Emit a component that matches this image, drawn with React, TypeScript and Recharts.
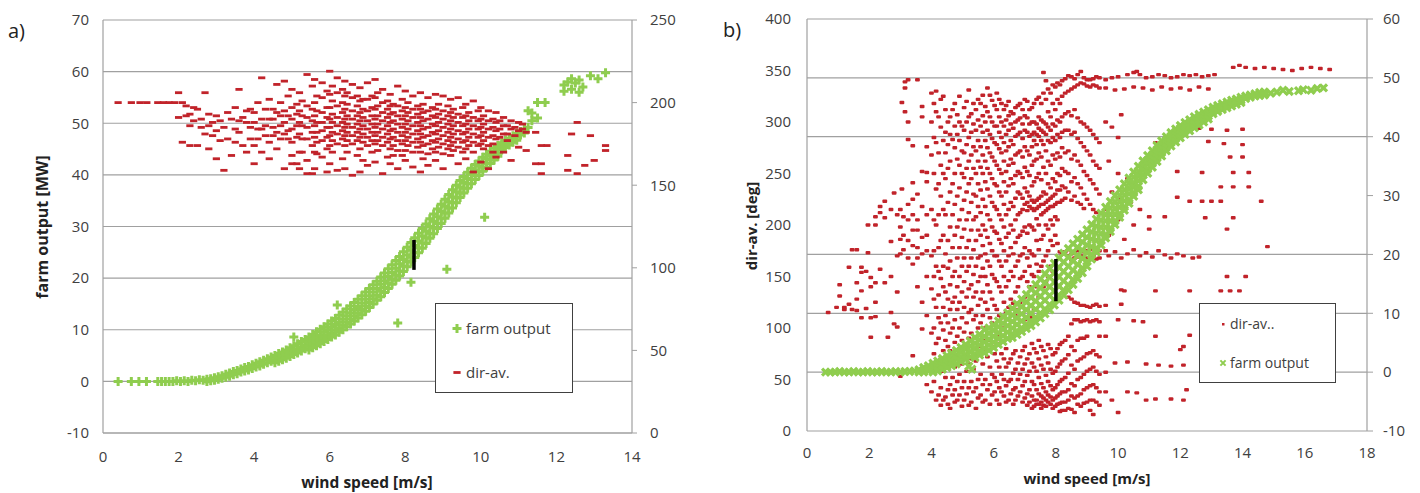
import { ScatterChart, Scatter, XAxis, YAxis, CartesianGrid, ReferenceLine } from 'recharts';

type Col = [number, number[]];

const windTicksA = [0, 2, 4, 6, 8, 10, 12, 14];
const outputTicksA = [-10, 0, 10, 20, 30, 40, 50, 60, 70];
const dirTicksA = [0, 50, 100, 150, 200, 250];
const windTicksB = [0, 2, 4, 6, 8, 10, 12, 14, 16, 18];
const dirTicksB = [0, 50, 100, 150, 200, 250, 300, 350, 400];
const outputTicksB = [-10, 0, 10, 20, 30, 40, 50, 60];
const gridValuesB = [60, 50, 40, 20, 10, 0];

// black marker bars (wind, value)
const barA = [{ x: 8.23, y: 21.6 }, { x: 8.23, y: 27.4 }];
const barB = [{ x: 8.0, y: 126 }, { x: 8.0, y: 167 }];

// panel a) farm output [MW] per wind speed
const farmOutputA: Col[] = [
  [0.4, [0]], [0.75, [0]], [0.95, [0]], [1.15, [0]], [1.45, [0]], [1.55, [0]], [1.65, [0]], [1.75, [0]],
  [1.85, [0]], [1.95, [0.1]], [2.05, [0]], [2.15, [0.1]], [2.25, [0]], [2.35, [0.2]], [2.45, [0.1]],
  [2.55, [0.3]], [2.65, [0.2]], [2.75, [0.4, 0]], [2.85, [0.5, 0.1]], [2.95, [0.7, 0.2]], [3.05, [0.9, 0.4]],
  [3.15, [1.1, 0.6]], [3.25, [1.4, 0.8]], [3.35, [1.6, 1.0]], [3.45, [1.9, 1.3]], [3.55, [2.1, 1.5]],
  [3.65, [2.4, 1.8]], [3.75, [2.7, 2.0]], [3.85, [2.9, 2.2]], [3.95, [3.2, 2.5]], [4.05, [3.5, 2.8]],
  [4.15, [3.8, 3.0]], [4.25, [4.1, 3.3]], [4.35, [4.4, 3.6]], [4.45, [4.7, 3.9]], [4.55, [5.0, 4.2, 3.6]],
  [4.65, [5.4, 4.5, 3.9]], [4.75, [5.7, 4.9, 4.2]], [4.85, [6.1, 5.2, 4.5]], [4.95, [6.5, 5.6, 4.8]],
  [5.05, [6.9, 6.0, 5.2, 8.6]], [5.15, [7.3, 6.3, 5.5]], [5.25, [7.7, 6.7, 5.9]], [5.35, [8.1, 7.1, 6.3]],
  [5.45, [8.6, 7.6, 6.8, 6.1]], [5.55, [9.1, 8.1, 7.2, 6.5]], [5.65, [9.6, 8.5, 7.6, 6.9]], [5.75, [10.1, 9.0, 8.0, 7.3]],
  [5.85, [10.6, 9.5, 8.5, 7.7]], [5.95, [11.1, 10.0, 8.9, 8.1]], [6.05, [11.7, 10.5, 9.4, 8.6]], [6.15, [12.2, 11.0, 9.9, 9.0]],
  [6.2, [14.8]], [6.25, [12.8, 11.5, 10.4, 9.5]], [6.35, [13.4, 12.1, 10.9, 10.0]], [6.45, [14.0, 12.7, 11.5, 10.6]],
  [6.55, [14.6, 13.3, 12.1, 11.1]], [6.65, [15.3, 13.9, 12.7, 11.7]], [6.75, [15.9, 14.5, 13.3, 12.3]], [6.85, [16.6, 15.2, 13.9, 12.9]],
  [6.95, [17.3, 15.9, 14.6, 13.6]], [7.05, [18.0, 16.6, 15.3, 14.3]], [7.15, [18.7, 17.3, 16.0, 15.0]], [7.25, [19.4, 18.0, 16.7, 15.7]],
  [7.35, [20.2, 18.8, 17.5, 16.4]], [7.45, [21.0, 19.5, 18.2, 17.2]], [7.55, [21.8, 20.3, 19.0, 18.0]], [7.65, [22.6, 21.1, 19.8, 18.8]],
  [7.75, [23.4, 21.9, 20.6, 19.6]], [7.8, [11.3]], [7.85, [24.2, 22.8, 21.4, 20.4]], [7.95, [25.1, 23.6, 22.3, 21.3]],
  [8.05, [26.0, 24.5, 23.2, 22.2]], [8.15, [26.9, 25.4, 24.1, 23.1, 19.2]], [8.25, [27.8, 26.3, 25.0, 24.0]], [8.35, [28.7, 27.2, 25.9, 24.9]],
  [8.45, [29.6, 28.1, 26.8, 25.8]], [8.55, [30.5, 29.1, 27.8, 26.7]], [8.65, [31.5, 30.0, 28.7, 27.7]], [8.75, [32.4, 31.0, 29.7, 28.6]],
  [8.85, [33.4, 31.9, 30.6, 29.6]], [8.95, [34.3, 32.9, 31.6, 30.6]], [9.05, [35.3, 33.9, 32.6, 31.6]], [9.1, [21.7]],
  [9.15, [36.2, 34.8, 33.6, 32.6]], [9.25, [37.1, 35.7, 34.6, 33.6]], [9.35, [38.0, 36.7, 35.5, 34.6]], [9.45, [38.9, 37.6, 36.5, 35.6]],
  [9.55, [39.7, 38.5, 37.4, 36.5]], [9.65, [40.5, 39.3, 38.3, 37.4]], [9.75, [41.3, 40.1, 39.1, 38.3]], [9.85, [42.0, 40.9, 39.9, 39.1]],
  [9.95, [42.7, 41.7, 40.7, 39.9]], [10.05, [43.4, 42.4, 41.5, 40.7]], [10.1, [31.8]], [10.15, [44.0, 43.1, 42.2, 41.5]],
  [10.25, [44.6, 43.7, 42.9, 42.2]], [10.35, [45.2, 44.3, 43.6, 42.9]], [10.45, [45.7, 44.9, 44.2, 43.6]], [10.55, [46.2, 45.4, 44.8]],
  [10.65, [46.7, 45.9, 45.3]], [10.75, [47.1, 46.4, 45.8]], [10.85, [47.6, 46.9, 46.3]], [10.95, [48.0, 47.3, 46.7]],
  [11.05, [48.4, 47.7]], [11.15, [48.8, 48.1]], [11.25, [52.4, 49.2]], [11.35, [52.0, 50.5]], [11.5, [54.0, 51.0]],
  [11.7, [54.0]], [12.2, [57.4, 56.2]], [12.3, [58.0]], [12.4, [56.6, 58.6]], [12.5, [57.8]], [12.6, [56.0, 58.4]],
  [12.7, [57.0]], [12.9, [59.2]], [13.1, [58.6]], [13.3, [59.8]],
];

// panel a) dir-av. (right axis)
const dirAvA: Col[] = [
  [0.4, [200]], [0.75, [200]], [0.98, [200]], [1.16, [200]], [1.45, [200]], [1.6, [200]], [1.75, [200]], [1.9, [200]],
  [2.0, [206, 191]], [2.1, [200, 176]], [2.2, [192, 198]], [2.3, [174, 193, 186]], [2.4, [197, 189]], [2.5, [196, 174]],
  [2.6, [190, 185]], [2.7, [206, 181]], [2.8, [186, 172, 193]], [2.9, [188, 180]], [3.0, [183, 166, 192]],
  [3.1, [189, 177]], [3.2, [159, 185]], [3.3, [178, 194]], [3.4, [190, 168]], [3.5, [176, 184, 197]],
  [3.6, [208, 182, 189]], [3.7, [174, 191]], [3.8, [188, 170, 195]], [3.9, [196, 178, 185]], [4.0, [194, 174, 163, 188]],
  [4.1, [184, 200, 178]], [4.2, [215, 190, 170, 184]], [4.3, [180, 186, 196]], [4.4, [202, 176, 166, 190]], [4.5, [196, 185, 190, 180]],
  [4.6, [211, 182, 172, 194]], [4.7, [192, 200, 178, 186]], [4.8, [213, 188, 160, 195, 181]], [4.9, [204, 178, 183, 192]],
  [5.0, [208, 197, 190, 184, 176, 168, 163]], [5.13, [199, 193, 186, 179, 163]], [5.2, [206, 195, 188, 181, 170, 160]],
  [5.27, [201, 192, 186, 178, 170]], [5.4, [217, 198, 191, 185, 178, 165, 157]], [5.54, [210, 196, 189, 182, 174, 157]],
  [5.6, [214, 200, 192, 186, 179, 170, 160]], [5.66, [204, 195, 188, 182, 176, 169]], [5.8, [212, 203, 194, 188, 183, 177, 167]],
  [5.93, [207, 197, 191, 185, 179, 172, 158]], [6.0, [219, 205, 197, 190, 185, 180, 174, 163]], [6.07, [210, 201, 193, 188, 182, 177, 170]],
  [6.2, [215, 206, 198, 191, 186, 181, 175, 159]], [6.34, [208, 200, 194, 188, 183, 178, 166]], [6.4, [213, 204, 196, 190, 185, 180, 174, 160]],
  [6.46, [206, 199, 192, 187, 182, 177, 170]], [6.6, [211, 203, 195, 190, 185, 180, 175, 156]], [6.73, [204, 198, 192, 187, 182, 177, 168]],
  [6.8, [209, 201, 194, 189, 184, 179, 172, 158]], [6.88, [202, 196, 191, 186, 181, 176, 165]], [7.0, [212, 202, 195, 189, 184, 179, 174, 162]],
  [7.12, [204, 197, 192, 187, 182, 177, 170]], [7.2, [214, 203, 196, 190, 185, 180, 175, 164]], [7.27, [206, 198, 192, 187, 182, 177, 171]],
  [7.4, [208, 200, 194, 189, 184, 179, 174, 157]], [7.53, [201, 196, 191, 186, 181, 176, 167]], [7.6, [205, 198, 193, 188, 183, 178, 172, 163]],
  [7.68, [199, 194, 189, 184, 179, 174, 168]], [7.8, [210, 198, 192, 187, 182, 177, 171, 160]], [7.92, [202, 195, 190, 185, 180, 175, 168]],
  [8.0, [207, 197, 192, 187, 182, 177, 171, 165]], [8.07, [200, 194, 189, 184, 179, 174]], [8.2, [204, 196, 191, 186, 181, 176, 170, 161]],
  [8.33, [198, 193, 188, 183, 178, 173]], [8.4, [206, 196, 191, 186, 181, 176, 170, 158]], [8.47, [199, 194, 189, 184, 179, 174, 166]],
  [8.6, [203, 195, 190, 185, 180, 175, 169, 162]], [8.72, [197, 192, 187, 182, 177, 172]], [8.8, [205, 196, 191, 186, 181, 176, 170, 165]],
  [8.88, [199, 193, 188, 183, 178, 173]], [9.0, [204, 195, 190, 185, 180, 175, 169, 160]], [9.13, [198, 192, 187, 182, 177, 172]],
  [9.2, [202, 194, 189, 184, 179, 174, 168]], [9.27, [196, 191, 186, 181, 176, 171]], [9.4, [203, 193, 188, 183, 178, 173, 163]],
  [9.52, [197, 191, 186, 181, 176, 170]], [9.6, [199, 192, 187, 182, 177, 172, 166]], [9.68, [194, 189, 184, 179, 174]],
  [9.8, [201, 191, 186, 181, 176, 170, 158]], [9.93, [195, 189, 184, 179, 174]], [10.0, [197, 190, 185, 180, 175, 164]],
  [10.07, [192, 187, 182, 177, 172]], [10.2, [195, 189, 184, 179, 174, 160]], [10.32, [190, 185, 180, 175, 170]],
  [10.4, [194, 188, 183, 178, 167]], [10.5, [189, 184, 179]], [10.6, [191, 186, 181, 170]], [10.7, [186, 181, 177]],
  [10.8, [189, 184, 165]], [10.9, [185, 180]], [11.0, [188, 183, 173]], [11.1, [184, 187]], [11.2, [182, 171]],
  [11.45, [182, 163]], [11.6, [163, 174, 157]], [11.75, [174]], [12.3, [159, 168]], [12.4, [181]],
  [12.55, [188, 157]], [12.75, [162]], [12.9, [180]], [13.0, [165]], [13.3, [174, 171]],
];

// panel b) dir-av. [deg] per wind speed
const dirAvB: Col[] = [
  [0.68, [115]], [0.95, [120]], [1.05, [142, 131]], [1.2, [120, 118]], [1.35, [159, 123]], [1.45, [176, 118]],
  [1.6, [176, 144, 128, 117]], [1.75, [159, 154, 136, 110]], [1.9, [155, 119]], [1.96, [200, 173]],
  [2.05, [149, 140, 110, 91]], [2.2, [208, 200, 125, 144, 111]], [2.35, [218, 212, 157]], [2.5, [223, 207, 144]],
  [2.6, [91]], [2.7, [215, 115, 150, 184]], [2.8, [231, 104]], [2.9, [210, 135, 101, 170]],
  [3.0, [53, 186, 198, 215, 172]], [3.05, [319, 235]], [3.1, [208, 190, 176]], [3.15, [339, 333, 310]],
  [3.25, [341, 300, 283, 205, 220, 185, 168]], [3.4, [277, 241, 225, 73, 162, 195, 180, 210]],
  [3.55, [341, 195, 178, 140, 230, 205, 168]], [3.7, [315, 305, 252, 99, 125, 218, 188, 172]],
  [3.85, [276, 251, 242, 190, 150, 112, 45, 210, 175]],
  [4.0, [328, 300, 268, 215, 170, 138, 95, 60, 38]],
  [4.08, [318, 285, 250, 205, 175, 150, 128, 100, 75, 48]],
  [4.15, [330, 310, 280, 235, 200, 160, 120, 85, 30]],
  [4.23, [305, 270, 240, 210, 178, 155, 132, 110, 90, 62, 35]],
  [4.3, [322, 295, 258, 228, 185, 148, 105, 70, 42, 25]],
  [4.38, [325, 282, 250, 215, 190, 160, 140, 120, 98, 78, 58, 30]],
  [4.45, [312, 290, 270, 245, 210, 172, 135, 112, 88, 52, 33]],
  [4.53, [300, 278, 255, 222, 185, 158, 128, 105, 82, 62, 40, 26]],
  [4.6, [305, 288, 262, 232, 198, 165, 142, 118, 95, 78, 45, 22]],
  [4.68, [312, 283, 240, 210, 178, 150, 125, 100, 70, 52, 35]],
  [4.75, [318, 296, 275, 250, 220, 190, 155, 130, 108, 86, 62, 40, 28]],
  [4.83, [307, 288, 264, 228, 198, 168, 140, 118, 92, 72, 48, 30]],
  [4.9, [325, 300, 282, 258, 236, 205, 178, 150, 125, 100, 80, 55, 35]],
  [4.98, [296, 272, 250, 215, 188, 160, 135, 110, 88, 65, 42, 24]],
  [5.05, [314, 292, 270, 246, 224, 196, 168, 145, 120, 96, 72, 48, 30]],
  [5.13, [320, 300, 278, 255, 232, 205, 178, 155, 130, 105, 82, 58, 36]],
  [5.2, [331, 305, 285, 262, 240, 212, 185, 160, 138, 115, 90, 65, 42, 25]],
  [5.28, [308, 290, 268, 245, 222, 195, 168, 142, 118, 95, 70, 48, 28]],
  [5.35, [318, 298, 276, 255, 230, 205, 176, 152, 130, 108, 85, 60, 38]],
  [5.43, [312, 292, 272, 250, 228, 208, 185, 160, 135, 112, 90, 68, 42, 22]],
  [5.5, [322, 302, 282, 262, 240, 218, 195, 168, 145, 122, 100, 78, 50, 32]],
  [5.58, [318, 296, 276, 256, 234, 212, 190, 170, 150, 128, 105, 82, 55, 35]],
  [5.65, [326, 306, 290, 268, 250, 225, 200, 180, 158, 135, 112, 88, 65, 45, 28]],
  [5.73, [315, 300, 282, 262, 242, 218, 195, 172, 150, 125, 100, 78, 50, 30]],
  [5.8, [333, 310, 292, 275, 255, 235, 210, 188, 165, 142, 118, 95, 72, 40]],
  [5.88, [326, 305, 288, 270, 250, 228, 205, 182, 160, 135, 110, 88, 62, 45, 26]],
  [5.95, [321, 300, 284, 266, 245, 222, 198, 175, 152, 128, 105, 82, 55, 35]],
  [6.03, [316, 296, 280, 262, 240, 218, 194, 170, 148, 122, 98, 75, 52, 38]],
  [6.1, [328, 312, 296, 278, 258, 238, 215, 192, 170, 145, 118, 92, 68, 48, 30]],
  [6.18, [322, 305, 290, 274, 254, 232, 210, 186, 165, 140, 112, 85, 62, 42, 26]],
  [6.25, [318, 300, 285, 270, 250, 228, 205, 182, 160, 135, 110, 75, 55, 38]],
  [6.33, [312, 296, 280, 262, 242, 220, 198, 175, 150, 125, 100, 70, 50, 34]],
  [6.4, [316, 302, 288, 272, 252, 232, 210, 188, 165, 140, 115, 80, 62, 44, 28]],
  [6.48, [320, 306, 292, 276, 258, 238, 215, 192, 170, 146, 120, 66, 48, 30]],
  [6.55, [310, 298, 282, 264, 245, 222, 200, 178, 155, 128, 70, 50, 36]],
  [6.63, [308, 294, 278, 260, 240, 218, 195, 172, 150, 124, 75, 56, 40, 26]],
  [6.7, [314, 300, 286, 268, 248, 226, 205, 183, 160, 135, 112, 78, 60, 42, 30]],
  [6.78, [316, 302, 288, 270, 252, 232, 210, 188, 165, 140, 118, 66, 50, 34]],
  [6.85, [318, 304, 290, 272, 250, 230, 212, 190, 170, 148, 125, 72, 55, 38]],
  [6.93, [312, 298, 284, 266, 246, 226, 215, 194, 172, 150, 128, 78, 60, 44, 28]],
  [7.0, [322, 306, 292, 276, 256, 236, 220, 198, 178, 155, 130, 108, 82, 65, 48, 32]],
  [7.08, [320, 304, 290, 272, 252, 232, 222, 214, 192, 168, 145, 118, 70, 54, 36, 25]],
  [7.15, [312, 298, 286, 268, 248, 228, 218, 200, 175, 160, 140, 112, 75, 58, 40, 28]],
  [7.23, [314, 300, 288, 276, 258, 238, 224, 216, 198, 172, 152, 110, 85, 66, 48, 34, 22]],
  [7.3, [318, 300, 290, 282, 262, 242, 222, 214, 195, 170, 150, 118, 80, 62, 45, 30, 24]],
  [7.38, [322, 298, 288, 278, 264, 246, 224, 216, 206, 185, 162, 140, 76, 58, 40, 30, 26]],
  [7.45, [324, 305, 294, 286, 270, 250, 226, 218, 200, 176, 155, 130, 88, 70, 52, 36, 26]],
  [7.53, [318, 302, 292, 282, 266, 244, 228, 220, 210, 186, 160, 82, 64, 46, 34, 28, 22]],
  [7.6, [348, 328, 300, 290, 278, 256, 232, 220, 212, 190, 165, 140, 78, 60, 42, 32, 25]],
  [7.68, [340, 322, 298, 288, 272, 250, 230, 222, 214, 200, 170, 145, 72, 54, 38, 30, 24]],
  [7.75, [332, 310, 295, 282, 262, 240, 224, 216, 196, 175, 150, 84, 66, 48, 35, 28]],
  [7.83, [328, 305, 292, 280, 258, 236, 226, 218, 205, 185, 160, 80, 60, 44, 33, 26]],
  [7.9, [336, 318, 298, 285, 268, 245, 228, 218, 200, 180, 155, 74, 56, 40, 30, 22]],
  [7.98, [334, 312, 296, 282, 264, 242, 230, 220, 208, 190, 76, 58, 42, 32, 24]],
  [8.05, [338, 322, 302, 288, 270, 250, 234, 222, 205, 182, 80, 62, 45, 34, 26]],
  [8.13, [336, 318, 300, 285, 266, 248, 234, 222, 174, 84, 65, 48, 36, 27, 19]],
  [8.2, [340, 325, 305, 290, 275, 255, 238, 224, 172, 86, 68, 50, 38, 28, 20]],
  [8.3, [342, 328, 308, 292, 270, 252, 236, 226, 174, 135, 88, 70, 52, 38, 28, 20]],
  [8.4, [345, 330, 310, 292, 272, 250, 232, 176, 170, 130, 92, 74, 56, 40, 30, 22]],
  [8.5, [344, 332, 306, 288, 264, 242, 224, 172, 166, 128, 104, 82, 64, 46, 34, 21]],
  [8.6, [342, 334, 312, 290, 268, 246, 228, 174, 168, 125, 108, 78, 60, 44, 32, 18]],
  [8.7, [346, 336, 304, 284, 262, 240, 222, 175, 169, 124, 108, 88, 68, 50, 34, 26]],
  [8.8, [349, 338, 300, 280, 258, 236, 220, 176, 170, 122, 106, 90, 70, 52, 36, 24]],
  [8.9, [343, 337, 298, 276, 252, 230, 216, 174, 167, 122, 107, 90, 72, 55, 40, 27]],
  [9.0, [341, 335, 295, 272, 248, 225, 175, 168, 121, 108, 92, 75, 58, 42, 28]],
  [9.1, [341, 334, 292, 268, 244, 220, 177, 169, 120, 106, 76, 60, 44, 30, 20]],
  [9.2, [342, 336, 288, 262, 240, 215, 176, 170, 122, 107, 78, 62, 45, 30, 16]],
  [9.3, [344, 335, 284, 258, 235, 212, 174, 167, 123, 108, 74, 58, 42, 28]],
  [9.4, [343, 333, 280, 255, 230, 175, 168, 121, 106, 92, 72, 55, 38, 25]],
  [9.6, [341, 333, 300, 215, 175, 122, 92, 57, 38]], [9.7, [262, 190, 170]], [9.8, [343, 295, 232, 30]],
  [9.9, [331, 174, 66]], [10.0, [344, 285, 250, 205, 108, 18]], [10.1, [307, 225, 168, 137, 123]],
  [10.2, [332, 186, 136]], [10.3, [346, 245, 172, 67, 38]], [10.4, [222]], [10.5, [348, 334, 200, 176, 107]],
  [10.6, [349, 37]], [10.7, [346, 215, 170]], [10.8, [333, 106]], [10.9, [343, 173, 65, 30]],
  [11.0, [196, 208]], [11.1, [344, 331, 169]], [11.2, [280, 136, 92, 31]], [11.3, [346, 175, 64]],
  [11.4, [334]], [11.5, [345, 208, 171]], [11.7, [343, 332, 168, 63, 31]], [11.9, [344, 252, 227, 172]],
  [12.0, [333, 79]], [12.1, [346, 170, 82, 64, 30]], [12.2, [40]], [12.3, [345, 331, 223, 136, 93]],
  [12.4, [168]], [12.5, [346]], [12.6, [334, 294, 169]], [12.7, [344, 251, 223]], [12.8, [207]],
  [12.9, [345, 332, 281]], [13.0, [293, 223]], [13.1, [346]], [13.3, [237, 223, 136]], [13.4, [279]],
  [13.5, [292, 196, 150]], [13.6, [266, 136]], [13.7, [353, 251, 237, 207]], [13.9, [355, 136]],
  [14.0, [278, 293, 266]], [14.1, [353, 150]], [14.2, [251, 237]], [14.4, [352]], [14.6, [223]],
  [14.7, [353]], [14.8, [179]], [15.0, [352]], [15.3, [351]], [15.6, [350]], [15.9, [352]],
  [16.2, [353]], [16.5, [352]], [16.8, [351]],
];

// panel b) farm output (right axis)
const farmOutputB: Col[] = [
  [0.6, [0]], [0.75, [0]], [0.9, [0]], [1.05, [0.1]], [1.2, [0]], [1.35, [0]], [1.5, [0.1]], [1.65, [0]],
  [1.8, [0]], [1.95, [0.1]], [2.1, [0]], [2.25, [0]], [2.4, [0.1]], [2.55, [0]], [2.7, [0]], [2.85, [0.1]],
  [3.0, [0]], [3.15, [0.1]], [3.3, [0.1]], [3.45, [0.2]], [3.6, [0.4, 0]], [3.75, [0.8, 0.3, 0]], [3.9, [1.1, 0.6, 0.2]],
  [4.05, [1.5, 0.9, 0.4, 0]], [4.2, [1.9, 1.3, 0.7, 0.2]], [4.35, [2.3, 1.7, 1.1, 0.5]], [4.5, [2.8, 2.1, 1.4, 0.8]],
  [4.65, [3.2, 2.5, 1.8, 1.1]], [4.8, [3.7, 2.9, 2.2, 1.4]], [4.95, [4.2, 3.4, 2.6, 1.8]], [5.1, [4.7, 3.9, 3.0, 2.2]],
  [5.2, [1.0]], [5.25, [5.3, 4.4, 3.5, 2.6]], [5.3, [0.5]], [5.4, [5.9, 4.9, 4.0, 3.1, 2.5]],
  [5.55, [6.4, 5.5, 4.6, 3.6, 2.9]], [5.7, [7.2, 6.1, 5.1, 4.1, 3.3]], [5.85, [7.5, 6.6, 5.6, 4.6, 3.7]],
  [6.0, [8.0, 7.1, 6.1, 5.1, 4.2]], [6.15, [8.7, 7.7, 6.7, 5.7, 4.7]], [6.3, [9.4, 8.3, 7.3, 6.2, 5.2]],
  [6.45, [10.1, 9.0, 7.9, 6.8, 5.7]], [6.6, [10.8, 9.7, 8.6, 7.5, 6.5, 5.9]], [6.75, [11.6, 10.4, 9.2, 8.1, 7.0, 6.4]],
  [6.9, [12.4, 11.1, 9.9, 8.7, 7.5, 6.9]], [7.05, [13.2, 11.9, 10.6, 9.3, 8.1, 7.4]], [7.2, [14.1, 12.7, 11.3, 10.0, 8.7, 7.9]],
  [7.35, [14.9, 13.5, 12.1, 10.7, 9.3, 8.5]], [7.5, [15.8, 14.3, 12.9, 11.4, 10.0, 9.2]], [7.65, [16.7, 15.2, 13.7, 12.2, 10.7, 9.9]],
  [7.8, [17.6, 16.1, 14.5, 13.0, 11.4, 10.6]], [7.95, [18.5, 16.9, 15.3, 13.8, 12.2, 11.4]], [8.1, [19.4, 17.8, 16.2, 14.6, 13.0, 12.2]],
  [8.25, [20.2, 18.7, 17.1, 15.5, 13.9, 13.1]], [8.4, [21.0, 19.5, 18.0, 16.4, 14.8, 14.0]], [8.55, [21.8, 20.4, 18.9, 17.3, 15.7, 14.9]],
  [8.7, [22.6, 21.2, 19.8, 18.3, 16.7, 15.9]], [8.85, [23.4, 22.1, 20.7, 19.3, 17.7, 16.9]], [9.0, [24.2, 22.9, 21.6, 20.3, 18.8, 18.0]],
  [9.15, [25.1, 23.8, 22.6, 21.3, 20.0, 19.2]], [9.3, [26.0, 24.8, 23.6, 22.4, 21.1, 20.4]], [9.45, [27.0, 25.8, 24.6, 23.5, 22.3, 21.6]],
  [9.6, [28.0, 26.8, 25.7, 24.6, 23.4, 22.8]], [9.75, [29.0, 27.9, 26.8, 25.7, 24.5, 23.9]], [9.9, [30.0, 28.9, 27.8, 26.8, 25.7, 25.1]],
  [10.05, [31.0, 30.0, 29.0, 28.0, 26.9, 26.3]], [10.2, [32.0, 31.0, 30.1, 29.1, 28.1, 27.5]], [10.35, [33.0, 32.1, 31.2, 30.3, 29.3, 28.7]],
  [10.5, [34.0, 33.1, 32.2, 31.4, 30.5, 29.9]], [10.65, [35.0, 34.1, 33.3, 32.5, 31.6, 31.0]], [10.8, [35.9, 35.1, 34.3, 33.5, 32.7]],
  [10.95, [36.8, 36.0, 35.3, 34.5, 33.8]], [11.1, [37.6, 36.9, 36.2, 35.5, 34.8]], [11.25, [38.5, 37.8, 37.1, 36.4, 35.8]],
  [11.4, [39.3, 38.6, 38.0, 37.3, 36.7]], [11.55, [40.0, 39.4, 38.8, 38.2, 37.6]], [11.7, [40.7, 40.1, 39.5, 39.0, 38.4]],
  [11.85, [41.3, 40.8, 40.2, 39.7, 39.1]], [12.0, [41.9, 41.4, 40.9, 40.4, 39.8]], [12.15, [42.4, 41.7, 41.0, 40.4]],
  [12.3, [42.9, 42.2, 41.6, 41.0]], [12.45, [43.4, 42.7, 42.1, 41.5]], [12.6, [43.8, 43.2, 42.6, 42.0]],
  [12.75, [44.2, 43.6, 43.0, 42.5]], [12.9, [44.6, 44.0, 43.5, 43.0]], [13.05, [45.0, 44.4, 43.9]], [13.2, [45.3, 44.8, 44.3]],
  [13.35, [45.6, 45.1, 44.6]], [13.5, [45.9, 45.4, 44.9]], [13.65, [46.2, 45.7, 45.2]], [13.8, [46.4, 46.0, 45.5]],
  [13.95, [46.7, 46.2, 45.8]], [14.1, [46.9, 46.5]], [14.25, [47.1, 46.7]], [14.4, [47.3, 46.9]], [14.55, [47.5, 47.0]],
  [14.7, [47.6, 47.1]], [14.9, [47.4]], [15.1, [47.6]], [15.3, [47.9]], [15.5, [47.7]], [15.8, [47.8]],
  [15.95, [48.0]], [16.2, [47.9]], [16.4, [48.2]], [16.6, [48.3]],
];

const toPoints = (cols: Col[]) => cols.flatMap(([x, ys]) => ys.map((y) => ({ x, y })));

const RED = '#c1232a';
const GREEN = '#8fcd4f';
const AXIS = '#a0a0a0';
const TEXT = '#404040';
const FONT = '"Open Sans", sans-serif';
const tickStyle = { fill: TEXT, fontSize: 15, fontFamily: FONT };

interface MarkProps {
  cx?: number;
  cy?: number;
}

const plusMark = ({ cx = 0, cy = 0 }: MarkProps) => (
  <path d={`M${cx - 4.5},${cy}H${cx + 4.5}M${cx},${cy - 4.5}V${cy + 4.5}`} stroke={GREEN} strokeWidth={3} />
);
const dashMark = ({ cx = 0, cy = 0 }: MarkProps) => (
  <rect x={cx - 3.6} y={cy - 1.4} width={7.2} height={2.8} fill={RED} />
);
const dotMark = ({ cx = 0, cy = 0 }: MarkProps) => (
  <rect x={cx - 2.4} y={cy - 1.7} width={4.8} height={3.4} rx={1} fill={RED} />
);
const crossMark = ({ cx = 0, cy = 0 }: MarkProps) => (
  <path d={`M${cx - 3.6},${cy - 3.6}L${cx + 3.6},${cy + 3.6}M${cx + 3.6},${cy - 3.6}L${cx - 3.6},${cy + 3.6}`} stroke={GREEN} strokeWidth={3.2} />
);
const legendCross = ({ cx = 0, cy = 0 }: MarkProps) => (
  <path d={`M${cx - 2.6},${cy - 2.6}L${cx + 2.6},${cy + 2.6}M${cx + 2.6},${cy - 2.6}L${cx - 2.6},${cy + 2.6}`} stroke={GREEN} strokeWidth={2} />
);
const noMark = () => <g />;
const barLine = { stroke: '#000', strokeWidth: 3.5 };

function PanelA() {
  return (
    <ScatterChart width={710} height={493} margin={{ top: 20, right: 18, bottom: 0, left: 0 }}>
      <CartesianGrid yAxisId="left" vertical={false} stroke={AXIS} strokeWidth={1.2} />
      <XAxis type="number" dataKey="x" domain={[0, 14]} ticks={windTicksA} interval={0} height={60}
        axisLine={{ stroke: AXIS, strokeWidth: 1.2 }} tickLine={false} tickSize={6} tickMargin={12} tick={tickStyle} />
      <YAxis yAxisId="left" type="number" dataKey="y" domain={[-10, 70]} ticks={outputTicksA} interval={0} width={103}
        axisLine={{ stroke: AXIS, strokeWidth: 1.2 }} tickLine={false} tickSize={6} tickMargin={8} tick={tickStyle} />
      <YAxis yAxisId="right" orientation="right" type="number" dataKey="y" domain={[0, 250]} ticks={dirTicksA} interval={0} width={60}
        axisLine={{ stroke: AXIS, strokeWidth: 1.2 }} tickLine={{ stroke: AXIS }} tickSize={5} tickMargin={13} tick={tickStyle} />
      <Scatter name="farm output" yAxisId="left" data={toPoints(farmOutputA)} shape={plusMark} isAnimationActive={false} />
      <Scatter name="dir-av." yAxisId="right" data={toPoints(dirAvA)} shape={dashMark} isAnimationActive={false} />
      <Scatter yAxisId="left" data={barA} line={barLine} shape={noMark} legendType="none" isAnimationActive={false} />
    </ScatterChart>
  );
}

function PanelB() {
  return (
    <ScatterChart width={710} height={493} margin={{ top: 19, right: 0, bottom: 0, left: 0 }}>
      {gridValuesB.map((v) => (
        <ReferenceLine key={v} yAxisId="right" y={v} stroke={AXIS} strokeWidth={1.2} />
      ))}
      <XAxis type="number" dataKey="x" domain={[0, 18]} ticks={windTicksB} interval={0} height={62}
        axisLine={{ stroke: AXIS, strokeWidth: 1.2 }} tickLine={false} tickSize={6} tickMargin={10} tick={tickStyle} />
      <YAxis yAxisId="left" type="number" dataKey="y" domain={[0, 400]} ticks={dirTicksB} interval={0} width={97}
        axisLine={{ stroke: AXIS, strokeWidth: 1.2 }} tickLine={false} tickSize={6} tickMargin={10} tick={tickStyle} />
      <YAxis yAxisId="right" orientation="right" type="number" dataKey="y" domain={[-10, 60]} ticks={outputTicksB} interval={0} width={53}
        axisLine={{ stroke: AXIS, strokeWidth: 1.2 }} tickLine={{ stroke: AXIS }} tickSize={6} tickMargin={10} tick={tickStyle} />
      <Scatter name="dir-av.." yAxisId="left" data={toPoints(dirAvB)} shape={dotMark} isAnimationActive={false} />
      <Scatter name="farm output" yAxisId="right" data={toPoints(farmOutputB)} shape={crossMark} isAnimationActive={false} />
      <Scatter yAxisId="left" data={barB} line={barLine} shape={noMark} legendType="none" isAnimationActive={false} />
    </ScatterChart>
  );
}

const abs = (left: number, top: number, extra: React.CSSProperties = {}): React.CSSProperties => ({
  position: 'absolute', left, top, ...extra,
});
const centered = (rotate = false): React.CSSProperties => ({
  transform: `translate(-50%, -50%)${rotate ? ' rotate(-90deg)' : ''}`,
  whiteSpace: 'nowrap', fontWeight: 700, color: '#222', lineHeight: 1.2,
});

function LegendRow({ y, mark, label, size }: { y: number; mark: React.ReactNode; label: string; size: number }) {
  return (
    <div style={abs(0, y, { display: 'flex', alignItems: 'center', transform: 'translateY(-50%)', width: '100%' })}>
      <svg width={30} height={12} style={{ flex: 'none' }}>{mark}</svg>
      <span style={{ fontSize: size, color: TEXT, lineHeight: 1 }}>{label}</span>
    </div>
  );
}

export default function App() {
  return (
    <div style={abs(0, 0, { width: 1420, height: 493, background: '#fff', fontFamily: FONT, overflow: 'hidden' })}>
      <div style={abs(0, 0)}><PanelA /></div>
      <div style={abs(710, 0)}><PanelB /></div>

      <div style={abs(8, 31, { fontSize: 20, color: '#222', lineHeight: 1, transform: 'translateY(-50%)' })}>a)</div>
      <div style={abs(723, 30, { fontSize: 20, color: '#222', lineHeight: 1, transform: 'translateY(-50%)' })}>b)</div>

      <div style={abs(43, 227, { ...centered(true), fontSize: 16 })}>farm output [MW]</div>
      <div style={abs(367, 482, { ...centered(), fontSize: 15.5 })}>wind speed [m/s]</div>
      <div style={abs(751, 226, { ...centered(true), fontSize: 15 })}>dir-av. [deg]</div>
      <div style={abs(1087, 478, { ...centered(), fontSize: 15 })}>wind speed [m/s]</div>

      <div style={abs(435, 303, { width: 138, height: 90, border: '1px solid #404040', background: '#fff', boxSizing: 'border-box' })}>
        <LegendRow y={24} size={15} label="farm output" mark={plusMark({ cx: 21, cy: 6 })} />
        <LegendRow y={68} size={15} label="dir-av." mark={dashMark({ cx: 21, cy: 6 })} />
      </div>
      <div style={abs(1199, 303, { width: 137, height: 80, border: '1px solid #404040', background: '#fff', boxSizing: 'border-box' })}>
        <LegendRow y={20} size={14} label="dir-av.." mark={<rect x={22} y={5} width={2.5} height={2.5} fill={RED} />} />
        <LegendRow y={59} size={14} label="farm output" mark={legendCross({ cx: 23, cy: 6 })} />
      </div>
    </div>
  );
}
